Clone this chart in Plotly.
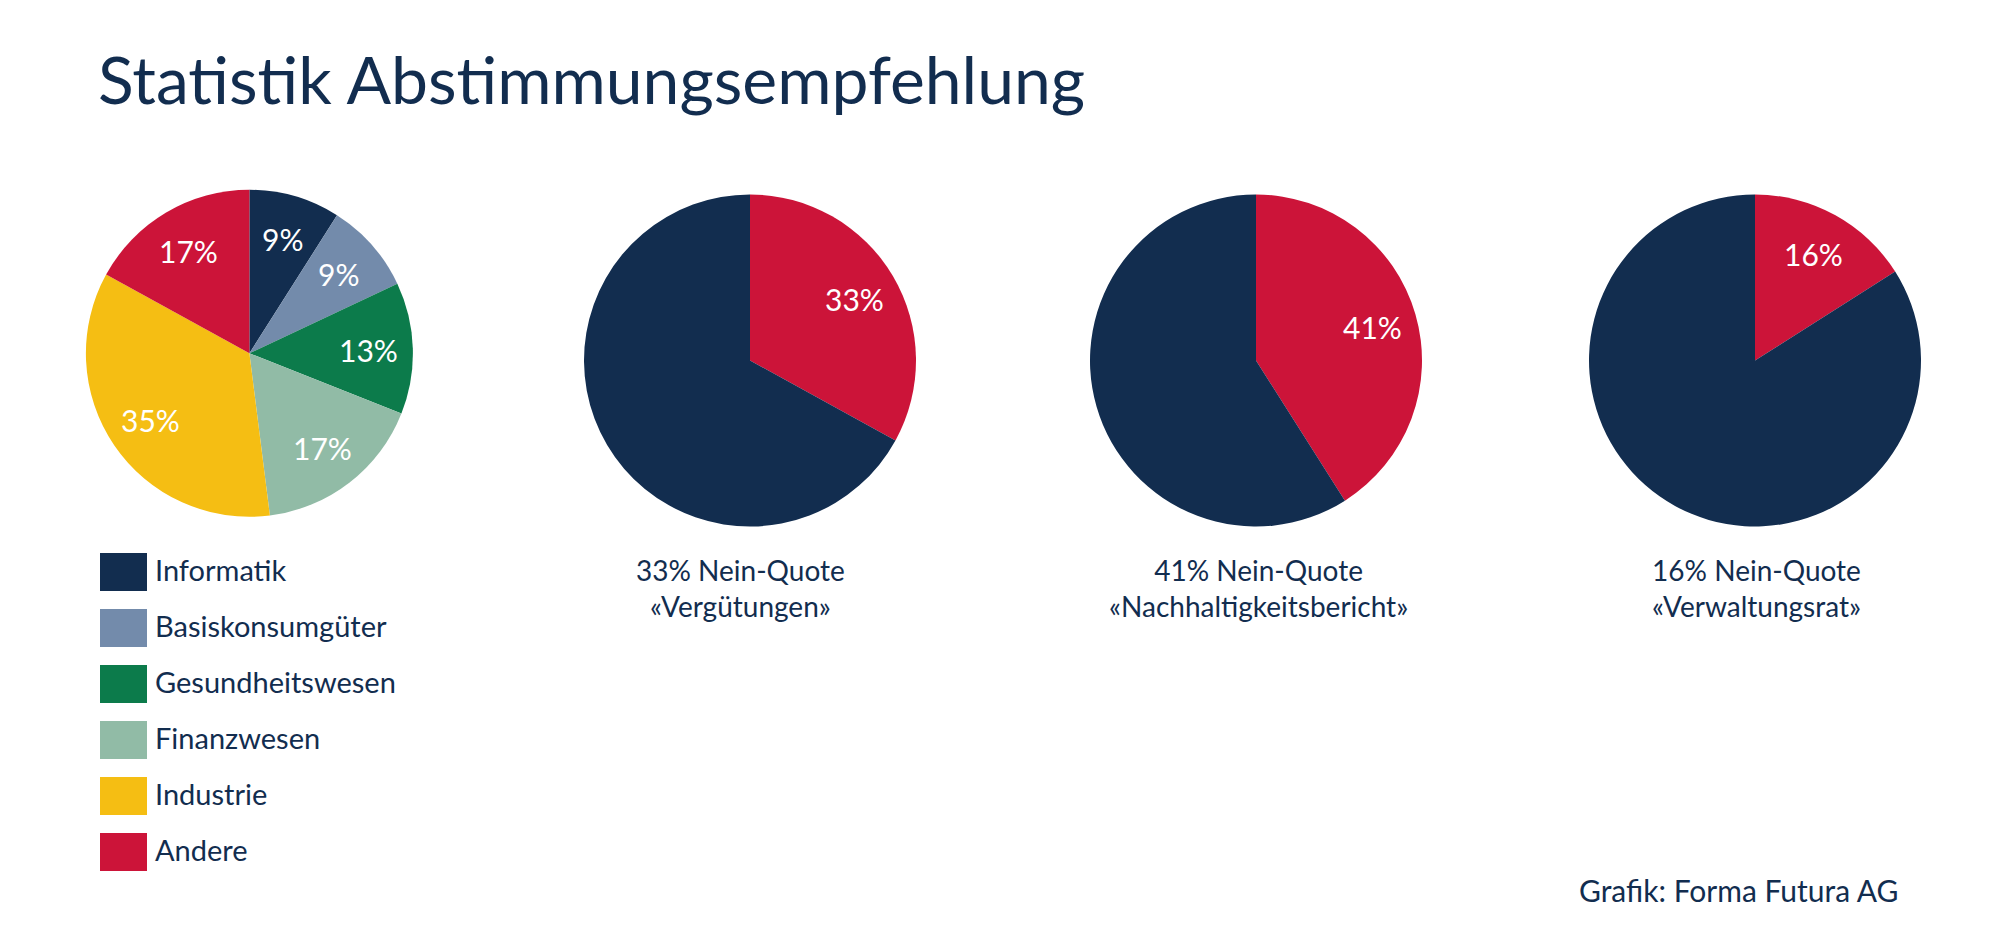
import math
import plotly.graph_objects as go

# Daten
sectors = ["Informatik", "Basiskonsumgüter", "Gesundheitswesen",
           "Finanzwesen", "Industrie", "Andere"]
sector_share = [9, 9, 13, 17, 35, 17]

votes = ["Vergütungen", "Nachhaltigkeitsbericht", "Verwaltungsrat"]
no_share = [33, 41, 16]

NAVY = "#122d4f"
RED = "#cc1439"
sector_colors = [NAVY, "#738bab", "#0c7b4b", "#91bba6", "#f5be13", RED]

W, H = 2000, 949
OFF = 8  # Seitenrand des Browsers
FONT = "Lato"


def px(x):
    return (x - OFF) / W


def py(y):
    return 1 - (y - OFF) / H


def pie_domain(cx, cy, r):
    return dict(x=[px(cx - r), px(cx + r)], y=[py(cy + r), py(cy - r)])


def slice_labels(values, cx, cy, r, show=None):
    # Beschriftung in der Mitte jedes Segments (Uhrzeigersinn ab 12 Uhr)
    total = sum(values)
    out = []
    start = 0
    for i, v in enumerate(values):
        mid = (start + v / 2) / total * 2 * math.pi
        start += v
        if show is not None and i not in show:
            continue
        x = cx + 0.73 * r * math.sin(mid)
        y = cy - 0.73 * r * math.cos(mid)
        out.append(dict(x=px(x), y=py(y), xref="paper", yref="paper",
                        text=f"{v}%", showarrow=False,
                        xanchor="center", yanchor="middle",
                        font=dict(family=FONT, size=30, color="white")))
    return out


fig = go.Figure()
annotations = []

# Sektoren-Torte
c1 = (249.4, 353.3, 163.5)
fig.add_trace(go.Pie(
    labels=sectors, values=sector_share, sort=False, direction="clockwise",
    rotation=0, marker=dict(colors=sector_colors, line=dict(width=0)),
    textinfo="none", hoverinfo="label+percent", showlegend=False,
    domain=pie_domain(*c1)
))
annotations += slice_labels(sector_share, *c1)

# Nein-Quoten
centers = [750, 1256, 1755]
caption_x = [740, 1258, 1756]
for name, share, cx, capx in zip(votes, no_share, centers, caption_x):
    c = (cx, 360.5, 166)
    fig.add_trace(go.Pie(
        labels=["Nein", "Ja"], values=[share, 100 - share], sort=False,
        direction="clockwise", rotation=0,
        marker=dict(colors=[RED, NAVY], line=dict(width=0)),
        textinfo="none", hoverinfo="label+percent", showlegend=False,
        domain=pie_domain(*c)
    ))
    annotations += slice_labels([share, 100 - share], *c, show=[0])
    annotations.append(dict(
        x=px(capx), y=py(588), xref="paper", yref="paper",
        text=f"{share}% Nein-Quote<br>«{name}»", showarrow=False,
        xanchor="center", yanchor="middle", align="center",
        font=dict(family=FONT, size=28, color=NAVY)))

# Legende
shapes = []
for i, (name, col) in enumerate(zip(sectors, sector_colors)):
    top = 553 + 56 * i
    shapes.append(dict(type="rect", xref="paper", yref="paper",
                       x0=px(100), x1=px(147), y0=py(top + 38), y1=py(top),
                       fillcolor=col, line=dict(width=0)))
    annotations.append(dict(
        x=px(153), y=py(top + 16), xref="paper", yref="paper", text=name,
        showarrow=False, xanchor="left", yanchor="middle",
        font=dict(family=FONT, size=29, color=NAVY)))

# Titel und Quelle
annotations.append(dict(
    x=px(96), y=py(79), xref="paper", yref="paper",
    text="Statistik Abstimmungsempfehlung", showarrow=False,
    xanchor="left", yanchor="middle",
    font=dict(family=FONT, size=66, color=NAVY)))
annotations.append(dict(
    x=px(1900), y=py(890), xref="paper", yref="paper",
    text="Grafik: Forma Futura AG", showarrow=False,
    xanchor="right", yanchor="middle",
    font=dict(family=FONT, size=30, color=NAVY)))

fig.update_layout(
    width=W, height=H,
    margin=dict(l=0, r=0, t=0, b=0),
    paper_bgcolor="white", plot_bgcolor="white",
    annotations=annotations, shapes=shapes,
    showlegend=False,
)

fig.write_html("out.html")
